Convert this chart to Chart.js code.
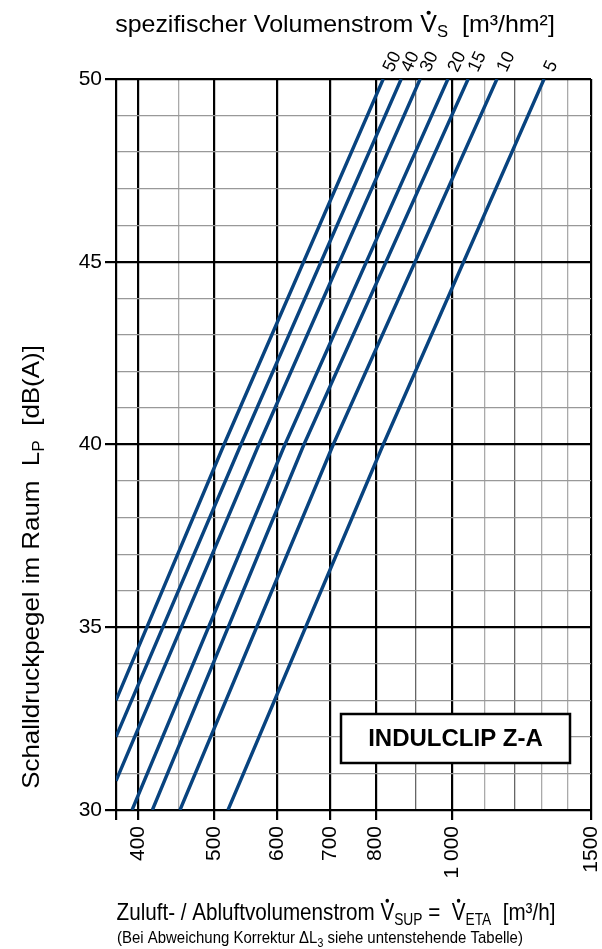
<!DOCTYPE html>
<html>
<head>
<meta charset="utf-8">
<script src="https://cdn.jsdelivr.net/npm/chart.js@4.4.1/dist/chart.umd.min.js"></script>
<style>
  body { margin: 0; background: #fff; }
  #wrap { width: 602px; height: 949px; }
</style>
</head>
<body>
<div id="wrap"><canvas id="chart" width="602" height="949"></canvas></div>
<script>
// series names (spezifischer Volumenstrom, m3/hm2)
const seriesNames = ['50', '40', '30', '20', '15', '10', '5'];
// airflow [m3/h] where each line is read (start, at 40 dB, at 50 dB)
const flow50 = [375, 514, 818];
const flow40 = [375, 540, 862];
const flow30 = [375, 569, 911];
const flow20 = [393, 614, 988];
const flow15 = [417, 649, 1048];
const flow10 = [452, 707, 1140];
const flow5  = [520, 818, 1308];
// sound pressure level [dB(A)] at those points
const level50 = [33.0, 40, 50];
const level40 = [32.0, 40, 50];
const level30 = [30.8, 40, 50];
const levelRest = [30, 40, 50];

// axes
const xMin = 375, xMax = 1500;
const yMin = 30, yMax = 50;
const xGridVals = [375, 400, 450, 500, 600, 700, 800, 900, 1000, 1100, 1200, 1300, 1400, 1500];
const xMajor = [375, 400, 500, 600, 700, 800, 1000, 1500];
const xDarkMinor = [900, 1200];
const xTickLabels = { 400: '400', 500: '500', 600: '600', 700: '700', 800: '800', 1000: '1 000', 1500: '1500' };

const flows = [flow50, flow40, flow30, flow20, flow15, flow10, flow5];
const levels = [level50, level40, level30, levelRest, levelRest, levelRest, levelRest];

const lineColor = '#08437f';
const FONT = '"Liberation Sans", Arial, sans-serif';

// draw text made of runs: {t, sub, dot}; sx squeezes the text horizontally
function measureRuns(ctx, runs, size) {
  let w = 0;
  runs.forEach(r => {
    ctx.font = (r.sub ? Math.round(size * 0.68) : size) + 'px ' + FONT;
    w += ctx.measureText(r.t).width;
  });
  return w;
}
function drawRuns(ctx, runs, x, y, size, align, sx) {
  sx = sx || 1;
  const total = measureRuns(ctx, runs, size) * sx;
  ctx.save();
  ctx.translate(align === 'center' ? x - total / 2 : x, y);
  ctx.scale(sx, 1);
  let cx = 0;
  ctx.textAlign = 'left';
  ctx.textBaseline = 'alphabetic';
  runs.forEach(r => {
    const s = r.sub ? Math.round(size * 0.68) : size;
    ctx.font = s + 'px ' + FONT;
    const dy = r.sub ? size * 0.22 : 0;
    ctx.fillText(r.t, cx, dy);
    const w = ctx.measureText(r.t).width;
    if (r.dot) {
      ctx.beginPath();
      ctx.arc(cx + w * 0.5, -size * 0.8, size * 0.085, 0, Math.PI * 2);
      ctx.fill();
    }
    cx += w;
  });
  ctx.restore();
}

const textPlugin = {
  id: 'texts',
  afterDraw(chart) {
    const ctx = chart.ctx;
    const area = chart.chartArea;
    const xs = chart.scales.x;
    ctx.save();
    ctx.fillStyle = '#000';

    // top title
    drawRuns(ctx, [
      { t: 'spezifischer Volumenstrom ' }, { t: 'V', dot: true }, { t: 'S', sub: true },
      { t: '  [m³/hm²]' }
    ], 335, 32, 24, 'center', 1.04);

    // series labels above the top edge
    ctx.font = '18px ' + FONT;
    seriesNames.forEach((name, i) => {
      const f = flows[i];
      const px = xs.getPixelForValue(f[f.length - 1]);
      ctx.save();
      ctx.translate(px + 5, area.top - 8);
      ctx.rotate(-Math.PI * 0.36);
      ctx.textAlign = 'left';
      ctx.textBaseline = 'middle';
      ctx.fillText(name, 0, 0);
      ctx.restore();
    });

    // y title
    ctx.save();
    ctx.translate(39, 567);
    ctx.rotate(-Math.PI / 2);
    drawRuns(ctx, [
      { t: 'Schalldruckpegel im Raum  L' }, { t: 'P', sub: true }, { t: '  [dB(A)]' }
    ], 0, 0, 24, 'center', 1.08);
    ctx.restore();

    // x title
    drawRuns(ctx, [
      { t: 'Zuluft- / Abluftvolumenstrom ' }, { t: 'V', dot: true }, { t: 'SUP', sub: true },
      { t: ' =  ' }, { t: 'V', dot: true }, { t: 'ETA', sub: true }, { t: '  [m³/h]' }
    ], 336, 920, 24, 'center', 0.86);
    drawRuns(ctx, [
      { t: '(Bei Abweichung Korrektur ' }, { t: 'ΔL' }, { t: '3', sub: true },
      { t: ' siehe untenstehende Tabelle)' }
    ], 117, 943, 17, 'left', 0.88);

    // product box
    const bx = area.left + 225, by = area.bottom - 96, bw = 229, bh = 49;
    ctx.fillStyle = '#fff';
    ctx.fillRect(bx, by, bw, bh);
    ctx.strokeStyle = '#000';
    ctx.lineWidth = 2.5;
    ctx.strokeRect(bx, by, bw, bh);
    ctx.fillStyle = '#000';
    ctx.font = 'bold 24px ' + FONT;
    ctx.textAlign = 'center';
    ctx.textBaseline = 'middle';
    ctx.fillText('INDULCLIP Z-A', bx + bw / 2, by + bh / 2 + 1);
    ctx.restore();
  }
};

const datasets = seriesNames.map((name, i) => ({
  label: name,
  data: flows[i].map((x, j) => ({ x: x, y: levels[i][j] })),
  showLine: true,
  borderColor: lineColor,
  borderWidth: 3.4,
  pointRadius: 0,
  fill: false
}));

function xGridColor(v) {
  if (xMajor.includes(v)) return '#000';
  if (xDarkMinor.includes(v)) return '#666';
  return '#aaa';
}

new Chart(document.getElementById('chart').getContext('2d'), {
  type: 'scatter',
  data: { datasets: datasets },
  options: {
    responsive: false,
    animation: false,
    layout: { padding: { top: 79, right: 0, left: 0, bottom: 0 } },
    plugins: { legend: { display: false }, tooltip: { enabled: false } },
    scales: {
      x: {
        type: 'logarithmic',
        min: xMin,
        max: xMax,
        afterBuildTicks: scale => { scale.ticks = xGridVals.map(v => ({ value: v })); },
        afterFit: scale => {
          scale.height = 139;
          scale.paddingRight = 11;
          scale.paddingLeft = 0;
        },
        border: { color: '#000', width: 2 },
        grid: {
          color: c => xGridColor(c.tick.value),
          lineWidth: c => xMajor.includes(c.tick.value) ? 2.2 : 1.3,
          tickColor: c => xMajor.includes(c.tick.value) ? '#000' : 'rgba(0,0,0,0)',
          tickLength: 10
        },
        ticks: {
          autoSkip: false,
          minRotation: 90,
          maxRotation: 90,
          padding: 6,
          color: '#000',
          font: { family: FONT, size: 21 },
          callback: v => xTickLabels[v] || ''
        }
      },
      y: {
        min: yMin,
        max: yMax,
        afterFit: scale => { scale.width = 116; },
        border: { color: '#000', width: 2 },
        grid: {
          color: c => c.tick.value % 5 === 0 ? '#000' : '#999',
          lineWidth: c => c.tick.value % 5 === 0 ? 2.2 : 1.3,
          tickColor: c => c.tick.value % 5 === 0 ? '#000' : 'rgba(0,0,0,0)',
          tickLength: 11
        },
        ticks: {
          stepSize: 1,
          autoSkip: false,
          padding: 3,
          color: '#000',
          font: { family: FONT, size: 21 },
          callback: v => v % 5 === 0 ? String(v) : ''
        }
      }
    }
  },
  plugins: [textPlugin]
});
</script>
</body>
</html>
